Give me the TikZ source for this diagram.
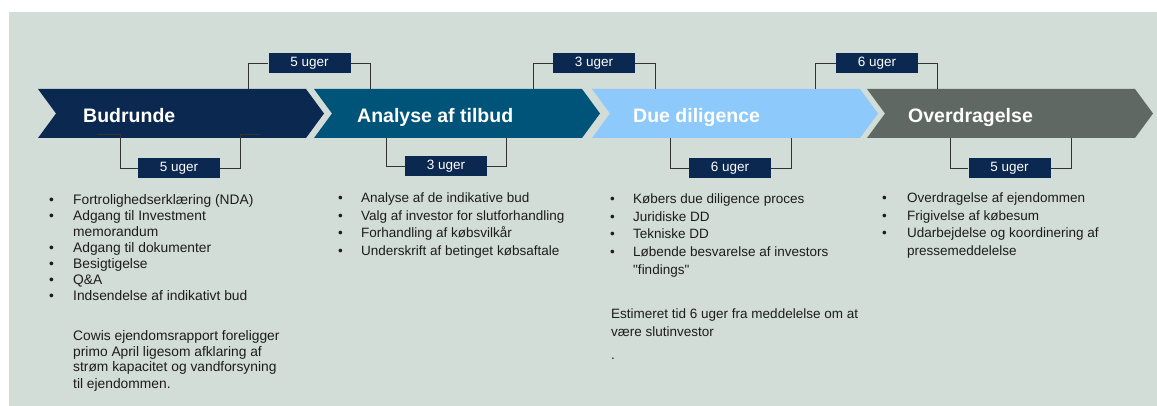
\documentclass[tikz,border=0pt]{standalone}
\usepackage{fontspec}
\setmainfont{Liberation Sans}
\usetikzlibrary{positioning,calc}

\definecolor{panelbg}{HTML}{D3DDD8}
\definecolor{budnavy}{HTML}{0B2850}
\definecolor{analyseblue}{HTML}{005479}
\definecolor{ddblue}{HTML}{8DC9FA}
\definecolor{overgrey}{HTML}{5F6863}
\definecolor{bodytext}{HTML}{1C1C1C}

\tikzset{
  weekbox/.style={fill=budnavy, text=white, minimum width=82pt, minimum height=20pt, inner sep=0pt,
    font=\fontsize{13.5}{14}\selectfont},
  bracket/.style={draw=black!80, line width=0.9pt},
  phase/.style={text=white, anchor=base west, inner sep=0pt, font=\fontsize{19.5}{22}\selectfont\bfseries},
  notes/.style={anchor=base west, inner sep=0pt, text=bodytext},
  widenotes/.style={notes, font=\fontsize{13.8}{16}\selectfont},
  tightnotes/.style={notes, font=\fontsize{13.5}{17.7}\selectfont},
}

\begin{document}
\begin{tikzpicture}[x=1pt, y=-1pt]
    \useasboundingbox (0,0) rectangle (1157,406);
    \fill[panelbg] (9,12) rectangle (1157,406);

    % the four phases
    \foreach \l/\c in {38/budnavy, 314/analyseblue, 592/ddblue, 867/overgrey}
        \fill[\c] (\l,89) -- ++(268,0) -- ++(18,24.5) -- ++(-18,24.5) -- ++(-268,0) -- ++(18,-24.5) -- cycle;

    \node[phase] (budrunde) at (83,123) {Budrunde};
    \node[phase] (analyse) at (357,123) {Analyse af tilbud};
    \node[phase] (diligence) at (633,123) {Due diligence};
    \node[phase] (overdrag) at (908,123) {Overdragelse};

    % bracket ends on the chevrons
    \coordinate (t1l) at (248,89);  \coordinate (t1r) at (370,89);
    \coordinate (t2l) at (533,89);  \coordinate (t2r) at (655,89);
    \coordinate (t3l) at (815,89);  \coordinate (t3r) at (937,89);
    \coordinate (b1l) at (97,134);  \coordinate (b1lk) at (120,134);
    \coordinate (b1rk) at (240,134); \coordinate (b1r) at (260,134);
    \coordinate (b2l) at (386,138); \coordinate (b2r) at (506,138);
    \coordinate (b3l) at (670,138); \coordinate (b3r) at (791,138);
    \coordinate (b4l) at (950,138); \coordinate (b4r) at (1071,138);

    % week labels
    \node[weekbox] (top1) at (309.5,63.5) {5 uger};
    \node[weekbox] (top2) at (594,63.5) {3 uger};
    \node[weekbox] (top3) at (877,63.5) {6 uger};
    \node[weekbox] (bot1) at (179,168.5) {5 uger};
    \node[weekbox] (bot2) at (446,166.5) {3 uger};
    \node[weekbox] (bot3) at (730,168.5) {6 uger};
    \node[weekbox] (bot4) at (1009.5,168.5) {5 uger};

    \draw[bracket] (t1l) |- (top1.west);  \draw[bracket] (top1.east) -| (t1r);
    \draw[bracket] (t2l) |- (top2.west);  \draw[bracket] (top2.east) -| (t2r);
    \draw[bracket] (t3l) |- (top3.west);  \draw[bracket] (top3.east) -| (t3r);
    \draw[bracket] (b1l) -- (b1lk) |- (bot1.west);
    \draw[bracket] (bot1.east) -| (b1rk) -- (b1r);
    \draw[bracket] (b2l) |- (bot2.west);  \draw[bracket] (bot2.east) -| (b2r);
    \draw[bracket] (b3l) |- (bot3.west);  \draw[bracket] (bot3.east) -| (b3r);
    \draw[bracket] (b4l) |- (bot4.west);  \draw[bracket] (bot4.east) -| (b4r);

    % notes under each phase
    \node[widenotes] (budlist) at (49,204.5) {\begin{tabular}[t]{@{}p{24pt}@{}l@{}}
        \textbullet & Fortrolighedserklæring (NDA)\\
        \textbullet & Adgang til Investment\\
                    & memorandum\\
        \textbullet & Adgang til dokumenter\\
        \textbullet & Besigtigelse\\
        \textbullet & Q\&A\\
        \textbullet & Indsendelse af indikativt bud
    \end{tabular}};
    \node[widenotes] (budnote) at (73,340) {\begin{tabular}[t]{@{}l@{}}
        Cowis ejendomsrapport foreligger\\
        primo April ligesom afklaring af\\
        strøm kapacitet og vandforsyning\\
        til ejendommen.
    \end{tabular}};

    \node[tightnotes] (analyselist) at (338,202.5) {\begin{tabular}[t]{@{}p{23pt}@{}l@{}}
        \textbullet & Analyse af de indikative bud\\
        \textbullet & Valg af investor for slutforhandling\\
        \textbullet & Forhandling af købsvilkår\\
        \textbullet & Underskrift af betinget købsaftale
    \end{tabular}};

    \node[tightnotes] (ddlist) at (610,203.5) {\begin{tabular}[t]{@{}p{23pt}@{}l@{}}
        \textbullet & Købers due diligence proces\\
        \textbullet & Juridiske DD\\
        \textbullet & Tekniske DD\\
        \textbullet & Løbende besvarelse af investors\\
                    & \textquotedbl findings\textquotedbl
    \end{tabular}};
    \node[tightnotes] (ddnote) at (611,318.5) {\begin{tabular}[t]{@{}l@{}}
        Estimeret tid 6 uger fra meddelelse om at\\
        være slutinvestor
    \end{tabular}};
    \node[tightnotes] (dddot) at (611,359.5) {.};

    \node[tightnotes] (overlist) at (882,202.5) {\begin{tabular}[t]{@{}p{25pt}@{}l@{}}
        \textbullet & Overdragelse af ejendommen\\
        \textbullet & Frigivelse af købesum\\
        \textbullet & Udarbejdelse og koordinering af\\
                    & pressemeddelelse
    \end{tabular}};
\end{tikzpicture}
\end{document}
